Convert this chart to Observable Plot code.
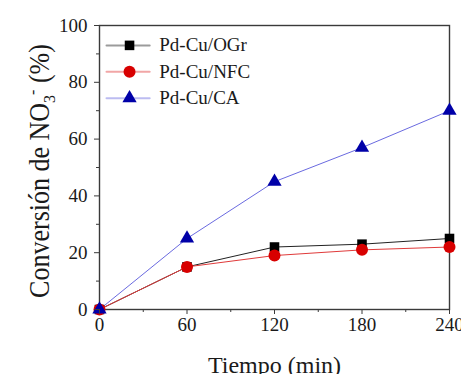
<!DOCTYPE html>
<html>
<head>
<meta charset="utf-8">
<script src="https://cdn.jsdelivr.net/npm/d3@7"></script>
<script src="https://cdn.jsdelivr.net/npm/@observablehq/plot@0.6"></script>
<style>
  html, body { margin: 0; padding: 0; background: #fff; }
  #chart { width: 461px; height: 374px; overflow: hidden; }
  #chart svg, #chart svg g, #chart svg text, #chart svg tspan {
    font-family: "Liberation Serif", "DejaVu Serif", serif !important;
    font-variant: normal !important;
    font-variant-numeric: normal !important;
  }
</style>
</head>
<body>
<div id="chart"></div>
<script>
const times = [0, 60, 120, 180, 240];
const ogr = [0, 15, 22, 23, 25];
const nfc = [0, 15, 19, 21, 22];
const ca = [0, 25, 45, 57, 70];
const seriesNames = ["Pd-Cu/OGr", "Pd-Cu/NFC", "Pd-Cu/CA"];
const xTicks = [0, 60, 120, 180, 240];
const yTicks = [0, 20, 40, 60, 80, 100];

const styles = {
  "Pd-Cu/OGr": {line: "#222222", fill: "#000000", symbol: "square", r: 5.4},
  "Pd-Cu/NFC": {line: "#e03a3a", fill: "#d80000", symbol: "circle", r: 6},
  "Pd-Cu/CA":  {line: "#6a6ae0", fill: "#0000a8", symbol: "triangle", r: 5.3}
};

const valuesBySeries = [ogr, nfc, ca];
const rows = [];
seriesNames.forEach((s, i) => times.forEach((t, j) => rows.push({series: s, t, v: valuesBySeries[i][j]})));

const legend = seriesNames.map((s, i) => ({series: s, y: 93 - i * 9.3}));

const marks = [Plot.frame({stroke: "#3a3a3a", strokeWidth: 1.4})];
seriesNames.forEach(s => {
  const st = styles[s];
  const d = rows.filter(r => r.series === s);
  marks.push(Plot.line(d, {x: "t", y: "v", stroke: st.line, strokeWidth: 1}));
});
seriesNames.forEach(s => {
  const st = styles[s];
  const d = rows.filter(r => r.series === s);
  marks.push(Plot.dot(d, {x: "t", y: "v", symbol: () => st.symbol, fill: st.fill, stroke: "none", r: st.r}));
});
legend.forEach(l => {
  const st = styles[l.series];
  marks.push(Plot.line([{x: 4.8, y: l.y}, {x: 34.4, y: l.y}], {x: "x", y: "y", stroke: st.line, strokeOpacity: 0.45, strokeWidth: 2}));
  marks.push(Plot.dot([{x: 20.6, y: l.y}], {x: "x", y: "y", symbol: () => st.symbol, fill: st.fill, stroke: "none", r: st.r}));
  marks.push(Plot.text([{x: 41, y: l.y, t: l.series}], {x: "x", y: "y", text: "t", textAnchor: "start", fontSize: 19, fill: "#1a1a1a"}));
});
marks.push(Plot.axisX({ticks: xTicks, tickSize: 5, tickPadding: 3, fontSize: 19, fontVariant: "normal", label: null, stroke: "#3a3a3a"}));
marks.push(Plot.axisX({ticks: [30, 90, 150, 210], tickSize: 3, text: null, label: null, stroke: "#3a3a3a"}));
marks.push(Plot.axisY({ticks: yTicks, tickSize: 5, tickPadding: 7, fontSize: 19, fontVariant: "normal", label: null, stroke: "#3a3a3a"}));
marks.push(Plot.axisY({ticks: [10, 30, 50, 70, 90], tickSize: 3, text: null, label: null, stroke: "#3a3a3a"}));

const chart = Plot.plot({
  width: 461,
  height: 374,
  marginLeft: 99,
  marginRight: 12,
  marginTop: 25,
  marginBottom: 65,
  style: {fontFamily: "'Liberation Serif', serif", color: "#1a1a1a", background: "#fff", overflow: "visible"},
  x: {domain: [0, 240]},
  y: {domain: [0, 100]},
  marks
});

const svg = d3.select(chart);
svg.append("text")
  .attr("x", 274.5).attr("y", 373)
  .attr("text-anchor", "middle")
  .attr("font-size", 24).attr("fill", "#1a1a1a")
  .text("Tiempo (min)");
const yt = svg.append("text")
  .attr("transform", "translate(49,171) rotate(-90) scale(1,1.1)")
  .attr("text-anchor", "middle")
  .attr("font-size", 26).attr("fill", "#1a1a1a");
yt.append("tspan").text("Conversión de NO");
yt.append("tspan").attr("font-size", 16).attr("dy", 5).text("3");
yt.append("tspan").attr("font-size", 16).attr("dy", -15).text("-");
yt.append("tspan").attr("dy", 10).text(" (%)");

document.getElementById("chart").appendChild(chart);
</script>
</body>
</html>
